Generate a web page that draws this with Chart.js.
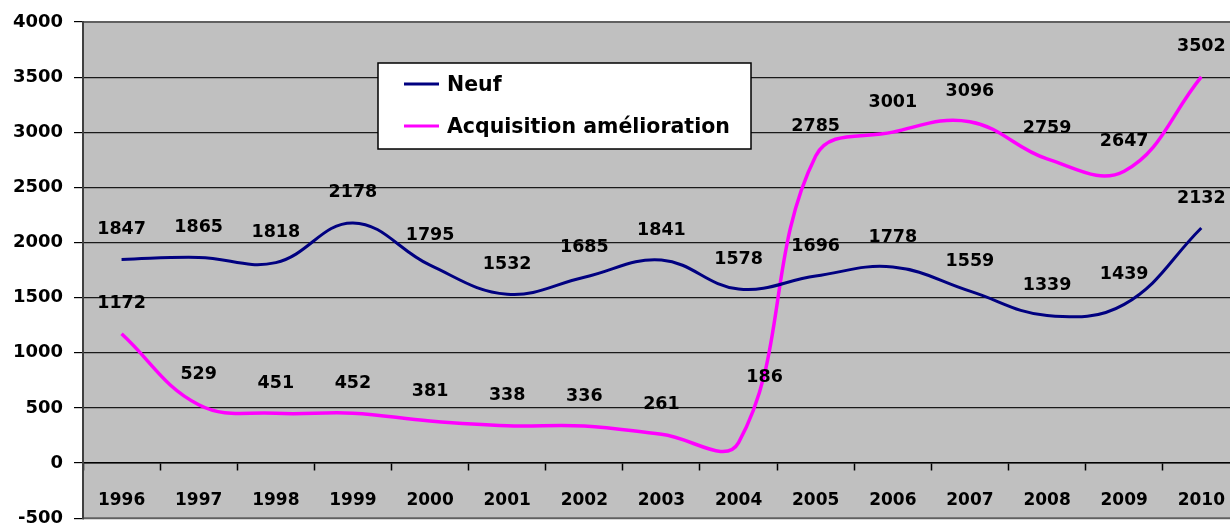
<!DOCTYPE html>
<html>
<head>
<meta charset="utf-8">
<script src="https://cdn.jsdelivr.net/npm/chart.js@4"></script>
<style>
html,body{margin:0;padding:0;background:#fff;overflow:hidden;}
#wrap{width:1245px;height:540px;}
</style>
</head>
<body>
<div id="wrap"><canvas id="c" width="1245" height="540"></canvas></div>
<script>
const years = ['1996','1997','1998','1999','2000','2001','2002','2003','2004','2005','2006','2007','2008','2009','2010'];
const neuf = [1847,1865,1818,2178,1795,1532,1685,1841,1578,1696,1778,1559,1339,1439,2132];
const acquisition = [1172,529,451,452,381,338,336,261,186,2785,3001,3096,2759,2647,3502];
const seriesNames = ['Neuf','Acquisition amélioration'];
const yTicks = [-500,0,500,1000,1500,2000,2500,3000,3500,4000];

const FONT = 'DejaVu Sans';
// label nudges (dataset index -> point index -> [dx, dy])
const labelNudges = {1: {8: [26, -35]}};

const bgPlugin = {
  id: 'plotBg',
  beforeDraw(chart) {
    const {ctx, chartArea: a} = chart;
    ctx.save();
    ctx.fillStyle = '#C0C0C0';
    ctx.fillRect(a.left, a.top, a.right - a.left, a.bottom - a.top);
    ctx.restore();
  },
  afterDraw(chart) {
    const {ctx, chartArea: a} = chart;
    ctx.save();
    ctx.strokeStyle = '#606060';
    ctx.lineWidth = 2;
    ctx.beginPath();
    ctx.moveTo(a.left, a.top); ctx.lineTo(a.right, a.top);
    ctx.moveTo(a.left, a.bottom); ctx.lineTo(a.right, a.bottom);
    ctx.stroke();
    ctx.strokeStyle = '#404040';
    ctx.beginPath();
    ctx.moveTo(a.left, a.top - 1); ctx.lineTo(a.left, a.bottom + 1);
    ctx.stroke();
    // legend
    const lx = 378, ly = 63, lw = 373, lh = 86;
    ctx.fillStyle = '#FFFFFF';
    ctx.fillRect(lx, ly, lw, lh);
    ctx.strokeStyle = '#000';
    ctx.lineWidth = 1.5;
    ctx.strokeRect(lx, ly, lw, lh);
    const rows = [84, 126];
    chart.data.datasets.forEach((ds, i) => {
      ctx.strokeStyle = ds.borderColor;
      ctx.lineWidth = 3;
      ctx.beginPath();
      ctx.moveTo(404, rows[i]); ctx.lineTo(439, rows[i]);
      ctx.stroke();
      ctx.fillStyle = '#000';
      ctx.font = 'bold 20.5px "' + FONT + '"';
      ctx.textBaseline = 'middle';
      ctx.textAlign = 'left';
      ctx.fillText(ds.label, 447, rows[i] + 2);
    });
    ctx.restore();
  },
  afterDatasetsDraw(chart) {
    const {ctx} = chart;
    ctx.save();
    ctx.font = 'bold 17.5px "' + FONT + '"';
    ctx.fillStyle = '#000';
    ctx.textAlign = 'center';
    ctx.textBaseline = 'middle';
    chart.data.datasets.forEach((ds, di) => {
      const meta = chart.getDatasetMeta(di);
      meta.data.forEach((pt, pi) => {
        const n = (labelNudges[di] && labelNudges[di][pi]) || [0, 0];
        ctx.fillText(String(ds.data[pi]), pt.x + n[0], pt.y - 30 + n[1]);
      });
    });
    ctx.restore();
  }
};

new Chart(document.getElementById('c'), {
  type: 'line',
  data: {
    labels: years,
    datasets: [
      {label: seriesNames[0], data: neuf, borderColor: '#000080', backgroundColor: '#000080', borderWidth: 3, pointRadius: 0, tension: 0.4, fill: false},
      {label: seriesNames[1], data: acquisition, borderColor: '#FF00FF', backgroundColor: '#FF00FF', borderWidth: 3.5, pointRadius: 0, tension: 0.4, fill: false}
    ]
  },
  options: {
    responsive: false,
    animation: false,
    devicePixelRatio: 1,
    layout: {padding: {left: 10, top: 22, right: 1, bottom: 18}},
    plugins: {legend: {display: false}, tooltip: {enabled: false}, title: {display: false}},
    scales: {
      x: {
        type: 'category',
        position: {y: 0},
        offset: true,
        grid: {offset: true, drawOnChartArea: false, tickLength: 7, color: '#000', tickWidth: 1.5},
        border: {display: true, color: '#000', width: 1.5},
        ticks: {font: {family: FONT, size: 17, weight: 'bold'}, color: '#000', padding: 20, maxRotation: 0, autoSkip: false}
      },
      y: {
        min: -500, max: 4000,
        afterBuildTicks: (s) => { s.ticks = yTicks.map(v => ({value: v})); },
        afterFit: (s) => { s.width = 73; },
        grid: {
          color: (c) => (c.tick && (c.tick.value === 4000 || c.tick.value === -500)) ? 'rgba(0,0,0,0)' : '#1a1a1a',
          tickColor: '#000',
          lineWidth: 1.2,
          tickLength: 9
        },
        border: {display: true, color: '#404040', width: 2},
        ticks: {font: {family: FONT, size: 18, weight: 'bold'}, color: '#000', padding: 11, callback: (v) => String(v)}
      }
    }
  },
  plugins: [bgPlugin]
});
</script>
</body>
</html>
